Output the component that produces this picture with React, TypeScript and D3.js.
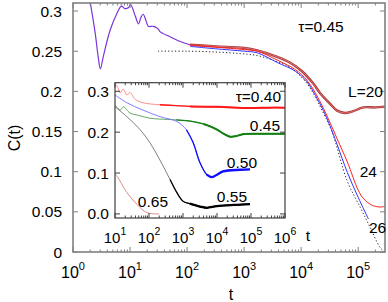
import { useEffect, useRef } from "react";
import * as d3 from "d3";

type Pt = [number, number]; // [log10 t, C(t)]

// main panel, tau = 0.45
const earlyCommon: Pt[] = [
  [0.28, 0.32], [0.386, 0.274], [0.445, 0.241], [0.48, 0.228], [0.53, 0.243],
  [0.65, 0.276], [0.77, 0.297], [0.85, 0.306], [0.91, 0.303], [0.97, 0.304],
  [1.01, 0.308], [1.09, 0.294], [1.15, 0.284], [1.19, 0.292], [1.23, 0.296],
  [1.28, 0.288], [1.32, 0.281], [1.41, 0.281], [1.47, 0.279], [1.5, 0.277],
  [1.53, 0.274], [1.7, 0.268], [1.88, 0.262], [2.05, 0.258],
];
const curveL20: Pt[] = [
  [2.05, 0.258], [2.5, 0.256], [3.0, 0.254], [3.23, 0.251], [3.58, 0.243],
  [3.8, 0.236], [4.0, 0.226], [4.21, 0.21], [4.33, 0.198], [4.5, 0.185],
  [4.63, 0.176], [4.77, 0.173], [4.9, 0.175], [5.09, 0.18], [5.3, 0.18], [5.47, 0.181],
];
const curveL24: Pt[] = [
  [2.05, 0.258], [2.5, 0.255], [3.0, 0.252], [3.23, 0.25], [3.58, 0.239],
  [3.9, 0.227], [4.1, 0.214], [4.25, 0.198], [4.39, 0.179], [4.5, 0.162],
  [4.63, 0.141], [4.81, 0.112], [5.0, 0.077], [5.1, 0.066], [5.25, 0.058],
  [5.4, 0.056], [5.47, 0.057],
];
const curveL26: Pt[] = [
  [2.05, 0.256], [2.5, 0.253], [3.0, 0.25], [3.23, 0.248], [3.58, 0.236],
  [3.9, 0.225], [4.1, 0.212], [4.25, 0.195], [4.39, 0.176], [4.5, 0.158],
  [4.63, 0.134], [4.81, 0.099], [5.0, 0.068], [5.18, 0.041],
];
const fitCurve: Pt[] = [
  [1.49, 0.25], [2.0, 0.25], [2.5, 0.249], [2.93, 0.247], [3.2, 0.245],
  [3.5, 0.239], [3.8, 0.23], [4.1, 0.21], [4.39, 0.173], [4.54, 0.15],
  [4.81, 0.088], [5.04, 0.055], [5.2, 0.032], [5.39, 0.005], [5.47, 0.0],
];

// inset, L fixed, several tau
const inset40: Pt[] = [
  [1.0, 0.318], [1.08, 0.31], [1.15, 0.296], [1.24, 0.305], [1.35, 0.291],
  [1.44, 0.297], [1.6, 0.28], [1.82, 0.272], [2.32, 0.267], [2.8, 0.265],
  [3.2, 0.263], [4.0, 0.262], [4.97, 0.259], [5.5, 0.26], [6.0, 0.26],
];
const inset45: Pt[] = [
  [1.0, 0.267], [1.15, 0.254], [1.25, 0.262], [1.44, 0.247], [1.74, 0.24],
  [2.03, 0.234], [2.32, 0.232], [2.8, 0.23], [3.3, 0.226], [3.6, 0.22],
  [3.8, 0.214], [4.0, 0.206], [4.2, 0.196], [4.38, 0.189], [4.55, 0.19],
  [4.76, 0.195], [5.4, 0.196], [6.0, 0.196],
];
const inset50: Pt[] = [
  [1.0, 0.291], [1.35, 0.272], [1.82, 0.254], [2.32, 0.238], [2.82, 0.226],
  [3.1, 0.206], [3.3, 0.174], [3.5, 0.125], [3.7, 0.096], [3.85, 0.09],
  [4.0, 0.096], [4.18, 0.104], [4.68, 0.108], [4.97, 0.109],
];
const inset55: Pt[] = [
  [1.0, 0.262], [1.35, 0.238], [1.74, 0.206], [2.03, 0.174], [2.32, 0.132],
  [2.62, 0.084], [2.82, 0.052], [3.0, 0.031], [3.2, 0.025], [3.5, 0.018],
  [3.7, 0.015], [4.0, 0.019], [4.5, 0.022], [4.97, 0.024],
];
const inset65: Pt[] = [
  [1.0, 0.096], [1.06, 0.092], [1.35, 0.052], [1.65, 0.023], [1.94, 0.003], [2.3, 0.0],
];

const mainYTicks = [0, 0.05, 0.1, 0.15, 0.2, 0.25, 0.3];
const mainYLabels = ["0", "0.05", "0.1", "0.15", "0.2", "0.25", "0.3"];
const mainXExps = [0, 1, 2, 3, 4, 5];
const insetYTicks = [0, 0.1, 0.2, 0.3];
const insetYLabels = ["0.0", "0.1", "0.2", "0.3"];
const insetXExps = [1, 2, 3, 4, 5, 6];

const FONT = "'Liberation Sans', Arial, Helvetica, sans-serif";

export default function App() {
  const svgRef = useRef<SVGSVGElement>(null);

  useEffect(() => {
    if (!svgRef.current) return;
    const svg = d3.select(svgRef.current);
    svg.selectAll("*").remove();

    const x = d3.scaleLog().domain([1, Math.pow(10, 5.47)]).range([73, 385]);
    const y = d3.scaleLinear().domain([0, 0.31]).range([252, 3]);
    const ix = d3.scaleLog().domain([10, 1e6]).range([115, 285]);
    const iy = d3.scaleLinear().domain([-0.01, 0.321]).range([218, 82.7]);

    const defs = svg.append("defs");
    defs.append("clipPath").attr("id", "mainClip")
      .append("rect").attr("x", 73).attr("y", 3).attr("width", 312).attr("height", 249);
    defs.append("clipPath").attr("id", "insetClip")
      .append("rect").attr("x", 115).attr("y", 82.7).attr("width", 170).attr("height", 135.3);

    const mainLine = d3.line<Pt>()
      .x((d) => x(Math.pow(10, d[0])))
      .y((d) => y(d[1]))
      .curve(d3.curveCatmullRom);
    const insetLine = d3.line<Pt>()
      .x((d) => ix(Math.pow(10, d[0])))
      .y((d) => iy(d[1]))
      .curve(d3.curveCatmullRom);

    // ---- main panel curves
    const gm = svg.append("g").attr("clip-path", "url(#mainClip)");
    gm.append("path").attr("d", mainLine(fitCurve)).attr("fill", "none")
      .attr("stroke", "#222").attr("stroke-width", 1).attr("stroke-dasharray", "1.2,2.2");
    gm.append("path").attr("d", mainLine(curveL20)).attr("fill", "none")
      .attr("stroke", "#a83232").attr("stroke-width", 2.4);
    gm.append("path").attr("d", mainLine(curveL20)).attr("fill", "none")
      .attr("stroke", "#f09090").attr("stroke-width", 0.7);
    gm.append("path").attr("d", mainLine(curveL24)).attr("fill", "none")
      .attr("stroke", "#ff2020").attr("stroke-width", 1);
    gm.append("path").attr("d", mainLine(curveL26)).attr("fill", "none")
      .attr("stroke", "#3333ff").attr("stroke-width", 1);
    gm.append("path").attr("d", mainLine(earlyCommon)).attr("fill", "none")
      .attr("stroke", "#7a36d8").attr("stroke-width", 1.2);

    // ---- frame + inward ticks on all four sides
    const frame = (
      sx: d3.ScaleLogarithmic<number, number>,
      sy: d3.ScaleLinear<number, number>,
      yTicks: number[],
      color: string,
      width: number
    ) => {
      const [x0, x1] = sx.range();
      const [y0, y1] = sy.range();
      const g = svg.append("g").attr("stroke", color).attr("stroke-width", 1);
      yTicks.forEach((v) => {
        const yy = sy(v);
        g.append("line").attr("x1", x0).attr("x2", x0 + 5).attr("y1", yy).attr("y2", yy);
        g.append("line").attr("x1", x1).attr("x2", x1 - 5).attr("y1", yy).attr("y2", yy);
      });
      const [d0, d1] = sx.domain();
      for (let e = Math.floor(Math.log10(d0)); e <= Math.ceil(Math.log10(d1)); e++) {
        for (let m = 1; m < 10; m++) {
          const t = m * Math.pow(10, e);
          if (t < d0 || t > d1) continue;
          const xx = sx(t);
          const len = m === 1 ? 5 : 2.5;
          g.append("line").attr("x1", xx).attr("x2", xx).attr("y1", y0).attr("y2", y0 - len);
          g.append("line").attr("x1", xx).attr("x2", xx).attr("y1", y1).attr("y2", y1 + len);
        }
      }
      svg.append("rect").attr("x", x0).attr("y", y1).attr("width", x1 - x0)
        .attr("height", y0 - y1).attr("fill", "none").attr("stroke", color)
        .attr("stroke-width", width);
    };

    frame(x, y, mainYTicks, "#808080", 1.6);

    mainYTicks.forEach((v, i) => {
      svg.append("text").attr("x", 62).attr("y", y(v) + 5.5).attr("text-anchor", "end")
        .attr("font-family", FONT).attr("font-size", 15.5).text(mainYLabels[i]);
    });
    mainXExps.forEach((e) => {
      const t = svg.append("text").attr("x", x(Math.pow(10, e))).attr("y", 277.5)
        .attr("text-anchor", "middle").attr("font-family", FONT).attr("font-size", 16);
      t.append("tspan").text("10");
      t.append("tspan").attr("dy", -8).attr("font-size", 11).text(String(e));
    });
    svg.append("text").attr("x", 231).attr("y", 300).attr("text-anchor", "middle")
      .attr("font-family", FONT).attr("font-size", 16).text("t");
    svg.append("text").attr("transform", "translate(20,138) rotate(-90)")
      .attr("text-anchor", "middle").attr("font-family", FONT).attr("font-size", 16)
      .text("C(t)");

    const label = (tx: number, ty: number, s: string, anchor = "start") =>
      svg.append("text").attr("x", tx).attr("y", ty).attr("text-anchor", anchor)
        .attr("font-family", FONT).attr("font-size", 15.5).text(s);
    label(321, 32, "τ=0.45", "middle");
    label(383, 97, "L=20", "end");
    label(377, 177, "24", "end");
    label(369, 233, "26");

    // ---- inset
    svg.append("rect").attr("x", 115).attr("y", 82.7).attr("width", 170)
      .attr("height", 135.3).attr("fill", "white");

    const gi = svg.append("g").attr("clip-path", "url(#insetClip)");
    // noisy data gets visually thicker at long times: thin early, medium, then thick tail
    const insetSeries: { data: Pt[]; light: string; dark: string; from: number; w: number }[] = [
      { data: inset65, light: "#d87878", dark: "#d87878", from: 99, w: 1 },
      { data: inset40, light: "#ff8080", dark: "#ff1a1a", from: 3.0, w: 2.0 },
      { data: inset45, light: "#55a055", dark: "#158015", from: 3.5, w: 2.0 },
      { data: inset55, light: "#707070", dark: "#000000", from: 3.1, w: 2.3 },
      { data: inset50, light: "#7070ff", dark: "#1010ff", from: 3.6, w: 2.3 },
    ];
    insetSeries.forEach((s) => {
      gi.append("path").attr("d", insetLine(s.data)).attr("fill", "none")
        .attr("stroke", s.light).attr("stroke-width", 0.9);
      const mid = s.data.filter((d) => d[0] >= s.from - 0.7);
      if (mid.length > 1) {
        gi.append("path").attr("d", insetLine(mid)).attr("fill", "none")
          .attr("stroke", s.dark).attr("stroke-width", 1.3);
      }
      const tail = s.data.filter((d) => d[0] >= s.from);
      if (tail.length > 1) {
        gi.append("path").attr("d", insetLine(tail)).attr("fill", "none")
          .attr("stroke", s.dark).attr("stroke-width", s.w);
      }
    });

    frame(ix, iy, insetYTicks, "#404040", 1.2);

    insetYTicks.forEach((v, i) => {
      svg.append("text").attr("x", 109).attr("y", iy(v) + 5.5).attr("text-anchor", "end")
        .attr("font-family", FONT).attr("font-size", 15.5).text(insetYLabels[i]);
    });
    insetXExps.forEach((e) => {
      const t = svg.append("text").attr("x", ix(Math.pow(10, e))).attr("y", 243)
        .attr("text-anchor", "middle").attr("font-family", FONT).attr("font-size", 15);
      t.append("tspan").text("10");
      t.append("tspan").attr("dy", -8).attr("font-size", 10.5).text(String(e));
    });
    svg.append("text").attr("x", 308).attr("y", 241).attr("text-anchor", "middle")
      .attr("font-family", FONT).attr("font-size", 15.5).text("t");

    label(281, 102, "τ=0.40", "end");
    label(280, 131, "0.45", "end");
    label(257, 168, "0.50", "end");
    label(247, 202, "0.55", "end");
    label(168, 207, "0.65", "end");
  }, []);

  return (
    <svg
      ref={svgRef}
      width={388}
      height={302}
      style={{ position: "absolute", left: 0, top: 0, background: "white" }}
    />
  );
}
